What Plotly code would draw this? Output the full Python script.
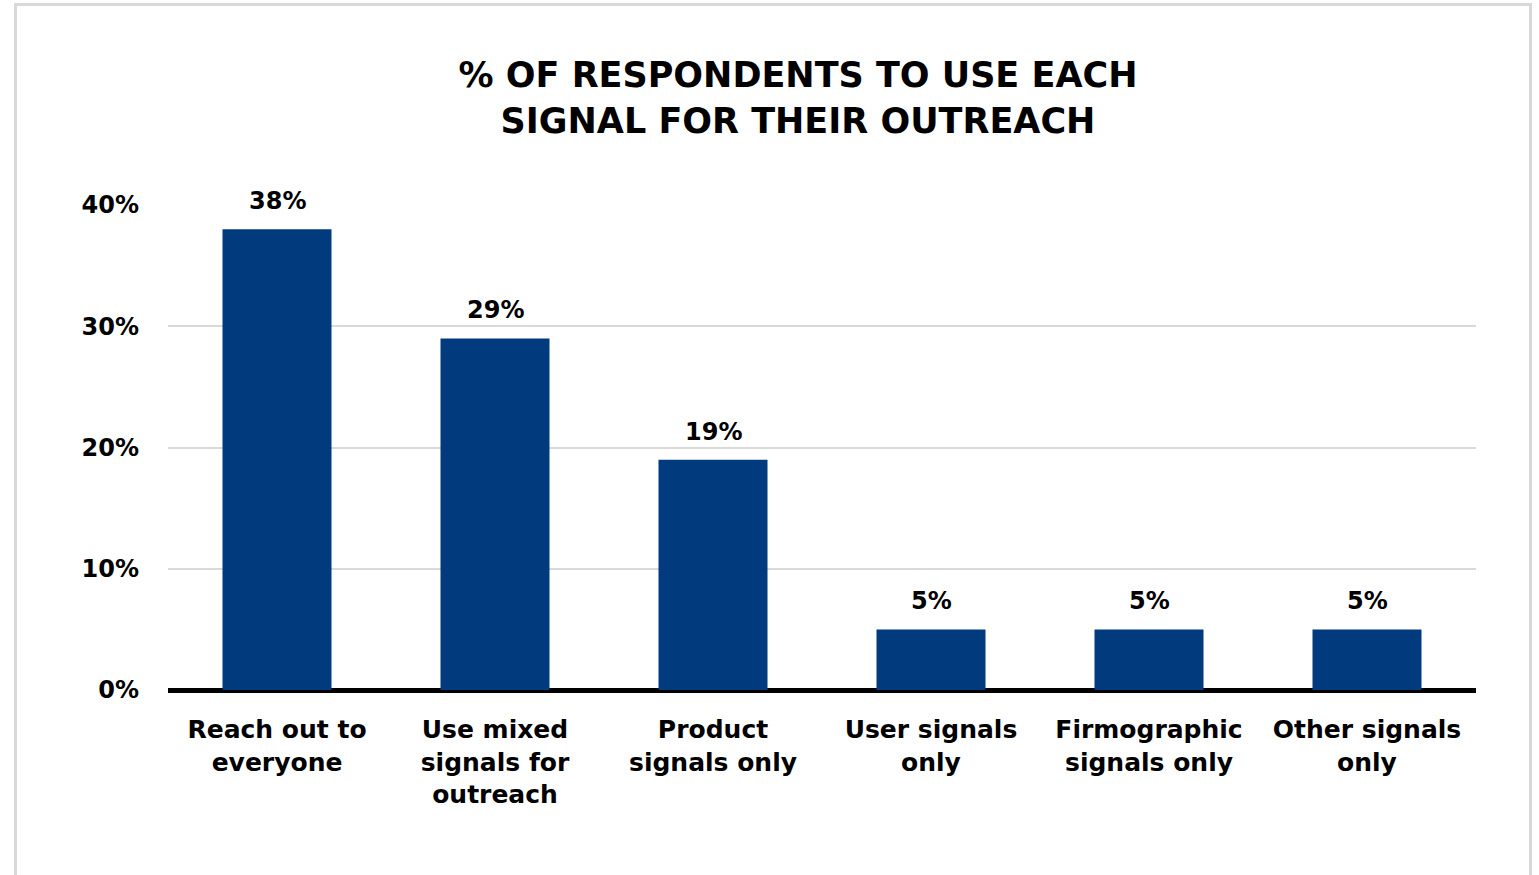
import plotly.graph_objects as go

categories = ["Reach out to<br>everyone", "Use mixed<br>signals for<br>outreach", "Product<br>signals only",
              "User signals<br>only", "Firmographic<br>signals only", "Other signals<br>only"]
values = [38, 29, 19, 5, 5, 5]
tick_vals = [0, 10, 20, 30, 40]
tick_text = ["0%", "10%", "20%", "30%", "40%"]
title_text = "% OF RESPONDENTS TO USE EACH<br>SIGNAL FOR THEIR OUTREACH"

W, H = 1539, 875
L, T = 168, 205
pw, ph = 1308, 485
R, B = W - L - pw, H - T - ph

def px_x(x):
    return (x - L) / pw

def px_y(y):
    return (T + ph - y) / ph

FONT = "DejaVu Sans"
fig = go.Figure(go.Bar(
    x=categories, y=values, width=0.5,
    marker=dict(color="#013B7E", line=dict(width=0)),
    cliponaxis=False, hoverinfo="x+y",
))

annotations = [
    dict(x=c, y=v, text=f"{v}%", xref="x", yref="y", showarrow=False,
         yanchor="bottom", yshift=12,
         font=dict(family=FONT, size=24, color="black", weight="bold"))
    for c, v in zip(categories, values)
]

fig.update_layout(
    width=W, height=H,
    margin=dict(l=L, r=R, t=T, b=B),
    paper_bgcolor="white", plot_bgcolor="white",
    showlegend=False,
    title=dict(text=title_text, x=798 / W, xanchor="center", y=1 - 87 / H, yanchor="middle",
               font=dict(family=FONT, size=35, color="black", weight="bold")),
    xaxis=dict(showgrid=False, tickfont=dict(family=FONT, size=25, color="black", weight="bold"),
               ticks="", showline=False, ticklabelstandoff=22),
    yaxis=dict(range=[0, 40], tickvals=tick_vals, ticktext=tick_text,
               showgrid=True, gridcolor="#d9d9d9", gridwidth=2,
               zeroline=True, zerolinecolor="black", zerolinewidth=5,
               tickfont=dict(family=FONT, size=24, color="black", weight="bold"),
               ticklabelstandoff=28, showline=False),
    annotations=annotations,
    shapes=[
        dict(type="rect", xref="paper", yref="paper",
             x0=px_x(15.5), x1=px_x(1530.5), y0=px_y(900), y1=px_y(4.5),
             line=dict(color="#d9d9d9", width=3), fillcolor="rgba(0,0,0,0)", layer="below"),
    ],
)

fig.write_html("out.html", config={"displayModeBar": False},
               post_script="document.body.style.margin='0';document.body.style.overflow='hidden';")
